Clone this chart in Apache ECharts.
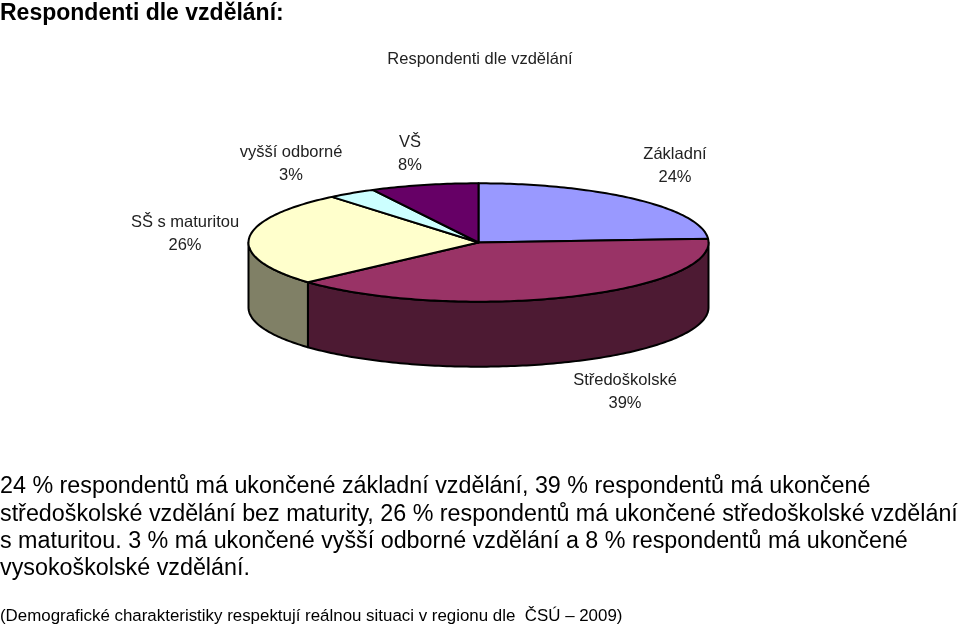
<!DOCTYPE html>
<html><head><meta charset="utf-8">
<style>html,body{margin:0;padding:0;background:#fff}#c{width:959px;height:626px}</style>
<script src="https://cdn.jsdelivr.net/npm/echarts@6/dist/echarts.min.js"></script>
</head><body><div id="c"></div>
<script>
const categories = ['Základní','Středoškolské','SŠ s maturitou','vyšší odborné','VŠ'];
const shares = [24,39.3,25.7,3.4,7.6];
const topColors = ['#9999FF','#993366','#FFFFCC','#CCFFFF','#660066'];
const wallColors = ['#4D4D80','#4D1A33','#808066','#668080','#330033'];
const labelAnchors = [[675,166],[625,392],[185,234],[291,164],[410,154]];
const heading = 'Respondenti dle vzdělání:';
const chartTitle = 'Respondenti dle vzdělání';
const paragraph = [
 '24 % respondentů má ukončené základní vzdělání, 39 % respondentů má ukončené',
 'středoškolské vzdělání bez maturity, 26 % respondentů má ukončené středoškolské vzdělání',
 's maturitou. 3 % má ukončené vyšší odborné vzdělání a 8 % respondentů má ukončené',
 'vysokoškolské vzdělání.'
];
const footnote = '(Demografické charakteristiky respektují reálnou situaci v regionu dle  ČSÚ – 2009)';

const cx=478.5, cy=242.5, rx=230, ry=59.2, depth=65;
const total = shares.reduce((a,b)=>a+b,0);
const FONT='"Liberation Sans", Arial, sans-serif';
function pt(deg,dy){const r=deg*Math.PI/180;return [cx+rx*Math.sin(r),cy-ry*Math.cos(r)+(dy||0)];}
function arc(a,b,dy){const n=Math.max(2,Math.ceil(Math.abs(b-a)));const o=[];for(let i=0;i<=n;i++)o.push(pt(a+(b-a)*i/n,dy));return o;}
const starts=[];let acc=0;shares.forEach(v=>{starts.push(acc/total*360);acc+=v;});
const line={stroke:'#000',lineWidth:2,lineJoin:'round'};

function renderSlice(params,api){
  const i=params.dataIndex, a=starts[i], b=a+api.value(0)/total*360;
  const children=[];
  const wa=Math.max(a,90), wb=Math.min(b,270);
  if(wb>wa){
    children.push({type:'polygon',z2:1,shape:{points:arc(wa,wb,0).concat(arc(wb,wa,depth))},
      style:Object.assign({fill:wallColors[i]},line)});
  }
  children.push({type:'polygon',z2:2,shape:{points:[[cx,cy]].concat(arc(a,b,0))},
    style:Object.assign({fill:topColors[i]},line)});
  const p=labelAnchors[i];
  children.push({type:'text',z2:3,x:p[0],y:p[1],style:{
    text:categories[i]+'\n'+Math.round(api.value(0))+'%',font:'16.5px '+FONT,fill:'#222',
    align:'center',verticalAlign:'middle',lineHeight:23}});
  return {type:'group',children};
}
function t(text,x,y,size){
  return {type:'text',x,y,style:{text,font:size+'px '+FONT,fill:'#000',align:'left',verticalAlign:'middle'}};
}
const graphics=[
  {type:'text',x:0,y:14,style:{text:heading,font:'bold 23px '+FONT,fill:'#000',verticalAlign:'middle'}},
  {type:'text',x:480,y:59,style:{text:chartTitle,font:'16.5px '+FONT,fill:'#222',align:'center',verticalAlign:'middle'}},
  t(paragraph[0],0,487,23.3),t(paragraph[1],0,515,23.3),t(paragraph[2],0,542,23.3),t(paragraph[3],0,569,23.3),
  t(footnote,0,616.5,16.9)
];
const chart=echarts.init(document.getElementById('c'),null,{renderer:'canvas'});
chart.setOption({
  animation:false,backgroundColor:'#fff',
  graphic:{elements:graphics},
  series:[{type:'custom',coordinateSystem:'none',silent:true,
    data:shares.map((v,i)=>({name:categories[i],value:[v]})),
    renderItem:renderSlice}]
});
</script></body></html>
